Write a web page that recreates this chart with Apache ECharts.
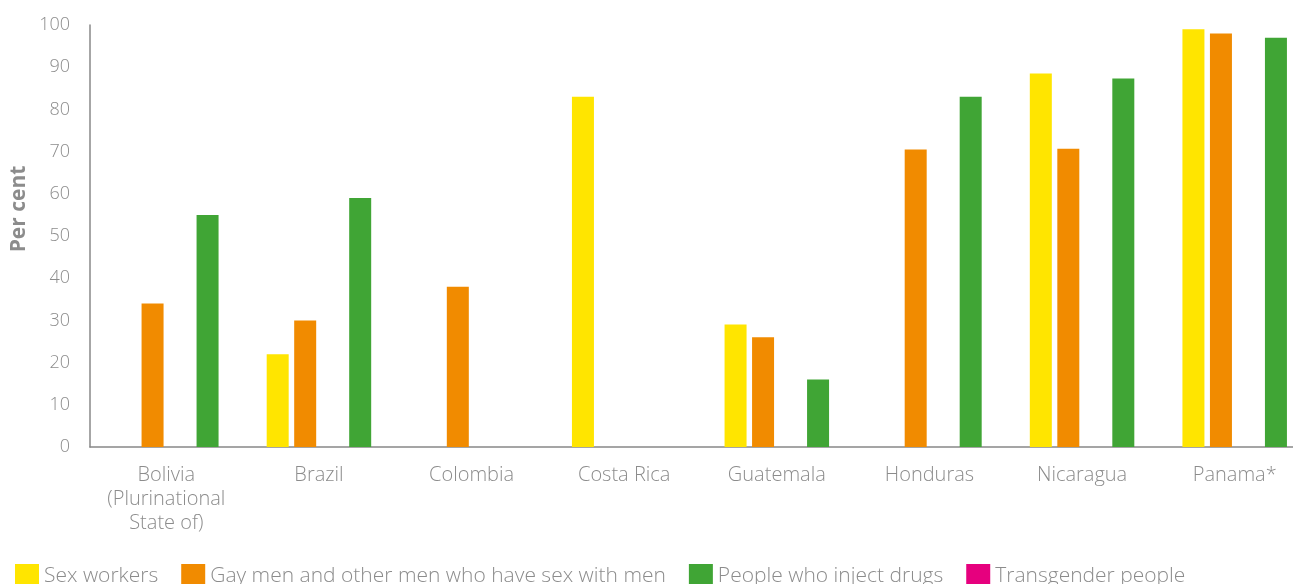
<!DOCTYPE html>
<html><head><meta charset="utf-8">
<script src="https://cdn.jsdelivr.net/npm/echarts@6/dist/echarts.min.js"></script>
<style>html,body{margin:0;padding:0;background:#fff}#c{width:1293px;height:584px}</style>
</head><body><div id="c"></div>
<script>
const categories = ['Bolivia\n(Plurinational\nState of)','Brazil','Colombia','Costa Rica','Guatemala','Honduras','Nicaragua','Panama*'];
const sexWorkers = [null,22,null,83,29,null,88.5,99];
const gayMen = [34,30,38,null,26,70.5,70.7,98];
const injectDrugs = [55,59,null,null,16,83,87.3,97];
const transgender = [null,null,null,null,null,null,null,null];
const yTicks = [0,10,20,30,40,50,60,70,80,90,100];

const font = 'Open Sans';
const grey = '#8c8c8c';
const chart = echarts.init(document.getElementById('c'));
function s(name, data, color){
  return {name, type:'bar', data, barWidth:22, barGap:'25%', barCategoryGap:'31%',
    itemStyle:{color}, emphasis:{disabled:true}};
}
chart.setOption({
  animation:false,
  textStyle:{fontFamily:font},
  grid:{left:90, top:25, bottom:137, width:1221, outerBoundsMode:'none', containLabel:false},
  legend:{left:10, top:559, itemWidth:24, itemHeight:24, itemGap:23, icon:'rect',
    textStyle:{fontFamily:font, fontSize:21, color:grey, fontWeight:300},
    data:['Sex workers','Gay men and other men who have sex with men','People who inject drugs','Transgender people']},
  xAxis:{type:'category', data:categories,
    axisLine:{lineStyle:{color:'#888', width:1.5}}, axisTick:{show:false},
    axisLabel:{interval:0, hideOverlap:false, fontFamily:font, fontSize:20, color:grey, margin:16, lineHeight:24, fontWeight:300}},
  yAxis:{type:'value', min:0, max:100, interval:10,
    axisLine:{show:true, lineStyle:{color:'#888', width:1.5}}, axisTick:{show:false}, splitLine:{show:false},
    axisLabel:{fontFamily:font, fontSize:18, color:grey, margin:20, fontWeight:300,
      formatter:v=>yTicks.includes(v)?String(v):''}},
  graphic:[{type:'text', x:19, y:209, rotation:Math.PI/2,
    style:{text:'Per cent', fontFamily:font, fontSize:21, fontWeight:'bold', fill:'#8c8c8c', align:'center', verticalAlign:'middle'}}],
  series:[
    s('Sex workers', sexWorkers, '#ffe500'),
    s('Gay men and other men who have sex with men', gayMen, '#f18b00'),
    s('Transgender people', transgender, '#e6007e'),
    s('People who inject drugs', injectDrugs, '#40a535')
  ]
});
</script></body></html>
